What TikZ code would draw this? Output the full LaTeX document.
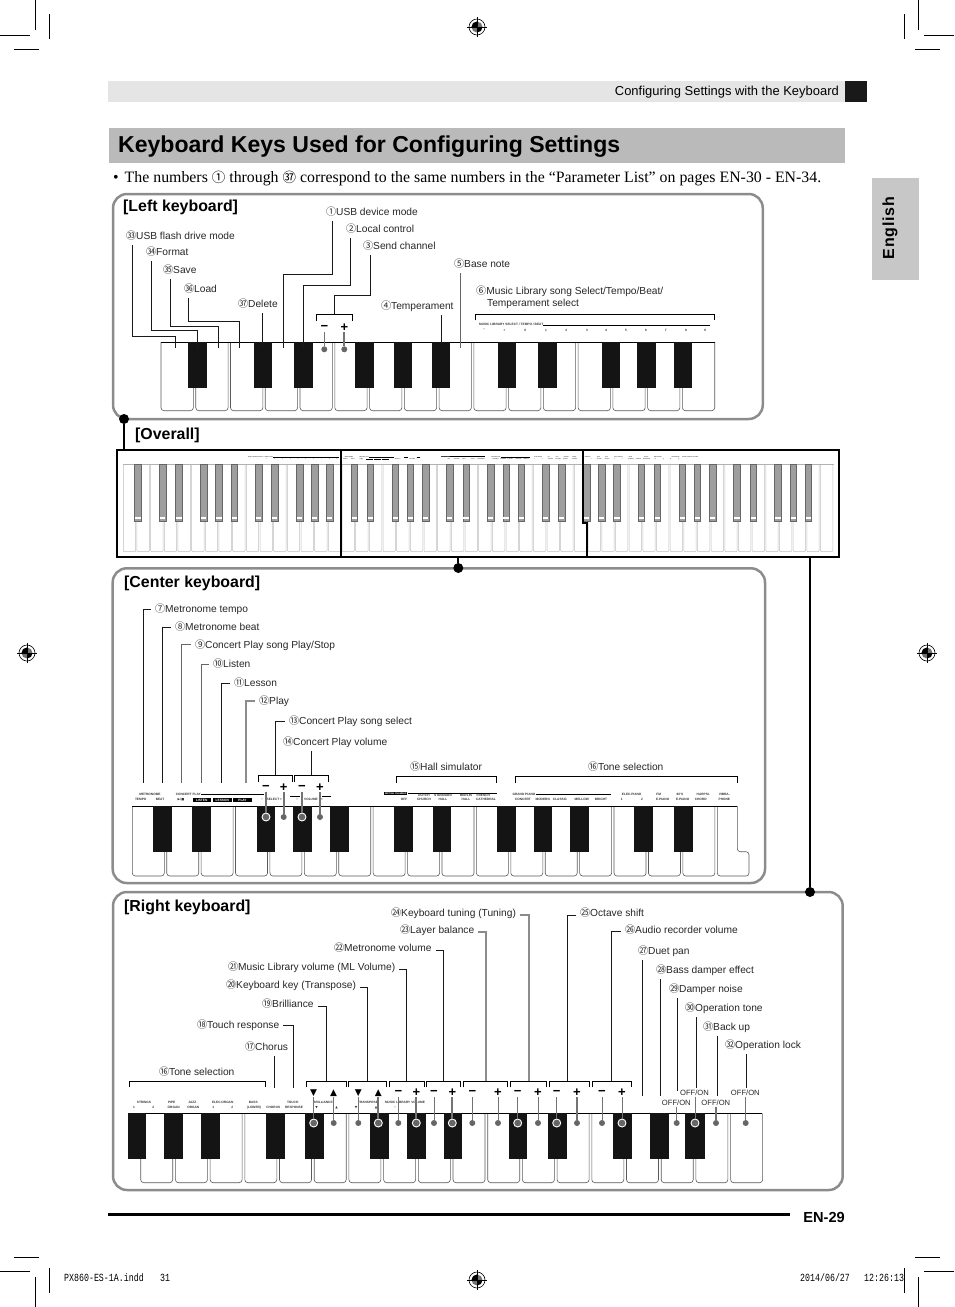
\documentclass[tikz,border=0pt]{standalone}
\usepackage{fontspec}
\setmainfont{Liberation Sans}
\newfontfamily\circfont{Noto Sans CJK JP}
\newfontfamily\serfont{Liberation Serif}
\newfontfamily\symfont{DejaVu Sans}
\newfontfamily\tabfont[LetterSpace=5]{Liberation Sans}
\newfontfamily\slugfont[FakeStretch=.76]{Liberation Mono}
\newcommand{\cn}[1]{{\circfont #1}}
\newcommand{\tup}{{\symfont\fontsize{9}{9}\selectfont ▲}}
\newcommand{\tdn}{{\symfont\fontsize{9}{9}\selectfont ▼}}
\tikzset{
  lbl/.style={anchor=west,inner sep=0,outer sep=4pt,xshift=-4pt,text height=9pt,text depth=1.5pt,font=\fontsize{10.2}{12}\selectfont,text=black!85},
  heading/.style={anchor=west,inner sep=0,font=\bfseries\fontsize{15.9}{19}\selectfont},
  leader/.style={line width=.9pt,black!90},
  leadergray/.style={line width=1.6pt,black!45},
  bracket/.style={line width=.8pt,black},
  wkey/.style={line width=.6pt,black!65,rounded corners=3pt},
  ovkey/.style={line width=.5pt,black!25,rounded corners=1pt},
  bkey/.style={fill=black!92},
  keyline/.style={line width=.8pt,black},
  panelbox/.style={draw=black!45,line width=2.5pt,rounded corners=14pt,inner sep=0,outer sep=0},
  ovline/.style={line width=1.7pt,black},
  bigdot/.style={circle,fill=black,inner sep=0,minimum size=10pt},
  keydot/.style={circle,fill=black!60,inner sep=0,minimum size=6pt},
  ringdot/.style={circle,fill=black!60,draw=white,line width=.9pt,inner sep=0,minimum size=8pt},
  signmark/.style={inner sep=0,minimum height=9pt,font=\bfseries\fontsize{13}{13}\selectfont},
  btnline/.style={line width=.8pt,black!55},
  btnthick/.style={line width=2pt,black!55},
  offon/.style={inner sep=0,outer sep=1pt,font=\fontsize{7.6}{9}\selectfont,text=black!85},
  mini/.style={inner sep=0,font=\bfseries\fontsize{3.2}{4}\selectfont,text=black!80},
  minichip/.style={inner sep=0,fill=black,text=white,font=\bfseries\fontsize{3.2}{4}\selectfont},
  miniline/.style={line width=.7pt,black},
  cropline/.style={line width=.9pt,black},
  slugtext/.style={anchor=west,inner sep=0,font=\slugfont\fontsize{10.9}{12}\selectfont}
}
\newcommand{\regmark}[1]{%
  \begin{scope}[shift={(#1)}]
    \draw[line width=.6pt] (0,0) circle (8);
    \fill[black!55] (0,0) circle (5.5);
    \fill (0,0) -- (5.5,0) arc (0:90:5.5) -- cycle;
    \fill (0,0) -- (-5.5,0) arc (180:270:5.5) -- cycle;
    \draw[line width=.6pt] (-10,0) -- (10,0) (0,-10) -- (0,10);
  \end{scope}}
\newcommand{\minileft}{%
  \node[mini,anchor=west] (mlib) at (479,324) {MUSIC LIBRARY SELECT / TEMPO / BEAT};
  \draw[miniline] (mlib.south east) -- (710,0 |- mlib.south east);
  \foreach \x/\t [count=\n] in {484/−,504.3/+,525.3/0,546/1,566.3/2,587/3,606/4,626/5,646/6,665.7/7,686/8,705/9}
    \node[mini] (mk\n) at (\x,330.3) {\t};}
\newcommand{\minicenter}{%
  \foreach \x/\y/\t [count=\n] in {150/794/METRONOME,140.7/799.7/TEMPO,160/799.7/BEAT,188.3/794/CONCERT PLAY,181/799.7/{\symfont ▶/■},
      262/799.7/−,273/799.7/SELECT,281/799.7/+,297/799.7/−,311/799.7/VOLUME,322/799.7/+,
      404/799.7/OFF,424/795/DUTCH,424/799.7/CHURCH,443/795/STANDARD,443/799.7/HALL,466/795/BERLIN,466/799.7/HALL,483.3/795/FRENCH,486/799.7/CATHEDRAL,
      524/794/GRAND PIANO,523/799.7/CONCERT,542.7/799.7/MODERN,560/799.7/CLASSIC,581.7/799.7/MELLOW,601/799.7/BRIGHT,
      631.7/794/ELEC.PIANO,621.7/799.7/1,642/799.7/2,658.7/794/FM,662.7/799.7/E.PIANO,680/794/60'S,682.7/799.7/E.PIANO,703.3/794/HARPSI-,700.7/799.7/CHORD,724.3/794/VIBRA-,724.3/799.7/PHONE}
    \node[mini] (mc\n) at (\x,\y) {\t};
  \foreach \x/\w/\t [count=\n] in {201.7/18/LISTEN,222.3/18.7/LESSON,242.5/18.4/PLAY}
    \node[minichip,minimum width=\w pt,minimum height=4pt] (mh\n) at (\x,800) {\t};
  \node[minichip,font=\bfseries\fontsize{2.3}{3}\selectfont,minimum width=23pt,minimum height=3.6pt] (mhall) at (395.8,793.3) {BRITISH CHAMBER};
  \draw[miniline] (mhall.east) -- (496.7,0 |- mhall.east);
  \draw[miniline] (mc4.east) -- (264,0 |- mc4.east);
  \draw[miniline] (290,796) -- (300,796) (322,796) -- (331,796);
  \draw[miniline] (mc21.east) -- (610.7,0 |- mc21.east);}
\newcommand{\miniright}{%
  \foreach \x/\y/\t [count=\n] in {144/1102.3/STRINGS,134/1107.7/1,153.3/1107.7/2,171.7/1102.3/PIPE,173.7/1107.7/ORGAN,192.3/1102.3/JAZZ,193.3/1107.7/ORGAN,
      222.7/1102.3/ELEC.ORGAN,213.3/1107.7/1,232.3/1107.7/2,253.3/1102.3/BASS,254/1107.7/(LOWER),273.3/1107.7/CHORUS,292.7/1102.3/TOUCH,294/1107.7/RESPONSE,
      323/1102.3/BRILLIANCE,316.7/1107.7/{\symfont ▼},336.7/1107.7/{\symfont ▲},368/1102.3/TRANSPOSE,356/1107.7/{\symfont ▼},376/1107.7/{\symfont ▲},405/1102.3/MUSIC LIBRARY VOLUME,395/1107.7/−}
    \node[mini] (mr\n) at (\x,\y) {\t};}
\begin{document}
\begin{tikzpicture}[x=1pt,y=-1pt]
\useasboundingbox (0,0) rectangle (954,1307);
\foreach \ox/\sx in {0/1,954/-1} \foreach \oy/\sy in {0/1,1307/-1}{
  \begin{scope}[shift={(\ox,\oy)},xscale=\sx,yscale=\sy]
    \draw[cropline] (35.5,0) -- (35.5,30);
    \draw[cropline] (0,35.5) -- (30,35.5);
    \draw[cropline] (49.5,14) -- (49.5,39);
    \draw[cropline] (14,49.5) -- (39,49.5);
  \end{scope}}
\regmark{477,27}
\regmark{27,653}
\regmark{927,653}
\regmark{477,1280}
\fill[black!10] (108,81) rectangle (845,102);
\fill[black!90] (845,81) rectangle (867,102);
\node[inner sep=0,anchor=east,font=\fontsize{12.95}{14}\selectfont] (headtxt) at (839,91.8) {Configuring Settings with the Keyboard};
\fill[black!27] (109,128) rectangle (845,163);
\node[inner sep=0,anchor=west,font=\bfseries\fontsize{23.05}{28}\selectfont] (title) at (118,146.8) {Keyboard Keys Used for Configuring Settings};
\node[inner sep=0,anchor=west,font=\serfont\fontsize{15.85}{18}\selectfont] (intro) at (113,178.5) {•\hspace{6pt}The numbers {\circfont\fontsize{13.5}{14}\selectfont ①} through {\circfont\fontsize{13.5}{14}\selectfont ㊲} correspond to the same numbers in the “Parameter List” on pages EN-30 - EN-34.};
\fill[black!22] (872,178) rectangle (919,280);
\node[rotate=90,inner sep=0,font=\tabfont\bfseries\fontsize{16}{20}\selectfont] (tab) at (890,228) {English};
% left panel
\node[panelbox,minimum width=649.7pt,minimum height=225pt] (leftbox) at (437.9,306.5) {};
\node[heading] (lefthd) at (123,207) {[Left keyboard]};
\foreach \i in {0,...,15} \draw[wkey] ({161+34.76*\i},342) -- ++(0,68.7) -- ++(32.3,0) -- ++(0,-68.7);
\draw[keyline] (161,342) -- (715,342);
\foreach \a/\b in {188/207,254/272,294/313,355/374,394/412,432/450,498/516,538/557,602/620,637/656,674/692}
  \fill[bkey] (\a,342) rectangle (\b,387.7);
\node[lbl] (lusbm) at (326,212) {\cn{①}USB device mode};
\node[lbl] (llocal) at (346,229) {\cn{②}Local control};
\node[lbl] (lsend) at (363,246) {\cn{③}Send channel};
\node[lbl] (ltemp) at (381,306) {\cn{④}Temperament};
\node[lbl] (lbase) at (454,264) {\cn{⑤}Base note};
\node[anchor=north west,inner sep=0,align=left,font=\fontsize{10.2}{12}\selectfont,text=black!85] (lmusic) at (476,285.5) {\cn{⑥}Music Library song Select/Tempo/Beat/\\\hspace*{11pt}Temperament select};
\node[lbl] (lusbf) at (126,236) {\cn{㉝}USB flash drive mode};
\node[lbl] (lform) at (146,252) {\cn{㉞}Format};
\node[lbl] (lsave) at (163,270) {\cn{㉟}Save};
\node[lbl] (lload) at (184,289) {\cn{㊱}Load};
\node[lbl] (ldel) at (238,304) {\cn{㊲}Delete};
\coordinate (kusbf) at (175.7,348);
\coordinate (kform) at (197.3,348);
\coordinate (ksave) at (218.3,348);
\coordinate (kload) at (239.3,348);
\coordinate (kdel) at (262.3,348);
\coordinate (kusbm) at (283.3,348);
\coordinate (klocal) at (303.3,348);
\coordinate (ksend) at (334,314);
\coordinate (ktemp) at (441,346);
\coordinate (kbase) at (460.3,348);
\draw[leader] (132.3,0 |- lusbf.south) -- (132.3,336) -| (kusbf);
\draw[leader] (151.3,0 |- lform.south) -- (151.3,330.7) -| (kform);
\draw[leader] (170.3,0 |- lsave.south) -- (170.3,326.7) -| (ksave);
\draw[leader] (188,0 |- lload.south) -- (188,321.3) -| (kload);
\draw[leader] (262.3,0 |- ldel.south) -- (kdel);
\draw[leader] (332,0 |- lusbm.south) -- (332,274.3) -| (kusbm);
\draw[leader] (350.7,0 |- llocal.south) -- (350.7,285) -| (klocal);
\draw[leader] (370.3,0 |- lsend.south) -- (370.3,295.7) -| (ksend);
\draw[leader] (441,0 |- ltemp.south) -- (ktemp);
\draw[leader,black!60] (460.3,0 |- lbase.south) -- (kbase);
\draw[bracket] (316.3,320.7) |- (352.7,314) -- (352.7,320.7);
\draw[bracket] (475.3,320.3) |- (714.7,314.7) -- (714.7,320.3);
\minileft
\foreach \x/\s/\l [count=\n] in {324.3/−/btnline,344.3/+/btnthick}{
  \node[signmark] (ls\n) at (\x,327.7) {\s};
  \node[keydot] (ld\n) at (\x,349.3) {};
  \draw[\l] (ls\n) -- (ld\n);}
% overall
\node[bigdot] (jleft) at (124,419) {};
\node[heading] (overhd) at (135,435) {[Overall]};
\foreach \i in {0,...,51} \draw[ovkey] ({123.3+13.67*\i},464) -- ++(0,87.7) -- ++(12.4,0) -- ++(0,-87.7);
\draw[line width=.5pt,black!30] (123.3,464) -- (834,464);
\foreach \x in {138}{
  \draw[black!60,fill=black!38,line width=.5pt] (\x-3.3,464) rectangle (\x+3.3,521.7);
  \fill[white] (\x-2.6,517.3) rectangle (\x+2.6,519.3);}
\foreach \o in {0,...,6} \foreach \b/\d in {1/-1.5,2/1,4/-1.5,5/0,6/1.5}{
  \pgfmathsetmacro{\kx}{123.3+13.67*(2+7*\o+\b)+\d}
  \draw[black!60,fill=black!38,line width=.5pt] (\kx-3.3,464) rectangle (\kx+3.3,521.7);
  \fill[white] (\kx-2.6,517.3) rectangle (\kx+2.6,519.3);}
\begin{scope}[name prefix=ovl,shift={(59.8,329.7)},scale=.393,transform shape]
  \minileft
\end{scope}
\begin{scope}[name prefix=ovc,shift={(290,145)},scale=.393,transform shape]
  \minicenter
\end{scope}
\begin{scope}[name prefix=ovr,shift={(531,24)},scale=.393,transform shape]
  \miniright
\end{scope}
\node[ovline,draw,inner sep=0,outer sep=0,minimum width=722.3pt,minimum height=107pt] (ovframe) at (477.85,503.5) {};
\draw[ovline] (340.7,450) -- (340.7,557);
\draw[ovline] (582.7,450) -- (582.7,523.3) -- (586.7,523.3) -- (586.7,557);
\draw[line width=2.6pt] (jleft) -- (jleft |- ovframe.north);
% center panel
\node[panelbox,minimum width=652.3pt,minimum height=314.7pt] (centerbox) at (438.85,725.65) {};
\node[bigdot] (jcenter) at (458.3,568) {};
\draw[line width=2pt] (jcenter |- ovframe.south) -- (jcenter);
\node[heading] (centerhd) at (124,583.5) {[Center keyboard]};
\foreach \i in {0,...,16} \draw[wkey] ({132.3+34.41*\i},806) -- ++(0,70) -- ++(32,0) -- ++(0,-70);
\draw[wkey] (717.3,806) -- (717.3,876) -- (749,876) -- (749,851.7) -- (737.3,851.7) -- (737.3,806);
\draw[keyline] (132.3,806) -- (737.3,806);
\foreach \a/\b in {153/172,192/211,257/275,293/312,330/349,394/413,433/451,497/516,534/552,570/589,634/653,674/693}
  \fill[bkey] (\a,806) rectangle (\b,852);
\node[lbl] (lmtempo) at (155,609) {\cn{⑦}Metronome tempo};
\node[lbl] (lmbeat) at (175,627) {\cn{⑧}Metronome beat};
\node[lbl] (lcplay) at (195,644.5) {\cn{⑨}Concert Play song Play/Stop};
\node[lbl] (llisten) at (213,664) {\cn{⑩}Listen};
\node[lbl] (llesson) at (234,683) {\cn{⑪}Lesson};
\node[lbl] (lplay) at (259,701) {\cn{⑫}Play};
\node[lbl] (lcsel) at (289,721) {\cn{⑬}Concert Play song select};
\node[lbl] (lcvol) at (283,742) {\cn{⑭}Concert Play volume};
\node[lbl] (lhall) at (410,767) {\cn{⑮}Hall simulator};
\node[lbl] (ltone) at (588,767) {\cn{⑯}Tone selection};
\coordinate (kmtempo) at (143.3,782.7);
\coordinate (kmbeat) at (162.5,782.7);
\coordinate (kcplay) at (181.5,782.7);
\coordinate (klisten) at (201.2,782.7);
\coordinate (klesson) at (221,782.7);
\coordinate (kplay) at (246,782.7);
\coordinate (kcsel) at (275.7,775.7);
\coordinate (kcvol) at (311.3,775.7);
\draw[leader] (lmtempo.west) -| (kmtempo);
\draw[leader] (lmbeat.west) -| (kmbeat);
\draw[leader,black!60] (lcplay.west) -| (kcplay);
\draw[leader,black!60] (llisten.west) -| (klisten);
\draw[leader] (llesson.west) -| (klesson);
\draw[leadergray] (lplay.west) -| (kplay);
\draw[leader] (lcsel.west) -| (kcsel);
\draw[leader] (311.3,0 |- lcvol.south) -- (kcvol);
\draw[bracket] (258.3,782.3) |- (292.7,775.7) -- (292.7,782.3);
\draw[bracket] (294.3,782.3) |- (328.7,775.7) -- (328.7,782.3);
\draw[bracket] (396.7,782.7) |- (496.7,776.7) -- (496.7,782.7);
\draw[bracket] (515.3,782.7) |- (737.3,776.7) -- (737.3,782.7);
\minicenter
\foreach \x/\s/\d [count=\n] in {266/−/ringdot,283.7/+/keydot,302/−/ringdot,320/+/keydot}{
  \node[signmark] (cs\n) at (\x,787.7) {\s};
  \node[\d] (cd\n) at (\x,817) {};
  \draw[btnthick] (cs\n) -- (cd\n);}
% right panel
\node[panelbox,minimum width=729.7pt,minimum height=298pt] (rightbox) at (477.85,1041) {};
\node[bigdot] (jright) at (810,892) {};
\draw[line width=2pt] (jright |- ovframe.south) -- (jright);
\node[heading] (righthd) at (124,907.5) {[Right keyboard]};
\foreach \i in {0,...,17} \draw[wkey] ({140.7+34.7*\i},1113.3) -- ++(0,69.4) -- ++(32,0) -- ++(0,-69.4);
\draw[keyline] (128,1113.3) -- (762,1113.3);
\foreach \a/\b in {127.7/146,164/183,201/220,266/285,305/324,370/389,407/426,444/462,509/527,548/567,613/632,650/669,685/705}
  \fill[bkey] (\a,1113.3) rectangle (\b,1158.7);
\node[lbl] (ltune) at (391,913) {\cn{㉔}Keyboard tuning (Tuning)};
\node[lbl] (llayer) at (400,930) {\cn{㉓}Layer balance};
\node[lbl] (lmetv) at (334,948) {\cn{㉒}Metronome volume};
\node[lbl] (lmlv) at (228,967) {\cn{㉑}Music Library volume (ML Volume)};
\node[lbl] (lkey) at (226,985) {\cn{⑳}Keyboard key (Transpose)};
\node[lbl] (lbril) at (262,1004) {\cn{⑲}Brilliance};
\node[lbl] (ltouch) at (197,1025) {\cn{⑱}Touch response};
\node[lbl] (lchorus) at (245,1047) {\cn{⑰}Chorus};
\node[lbl] (ltone2) at (159,1072) {\cn{⑯}Tone selection};
\node[lbl] (loct) at (580,913) {\cn{㉕}Octave shift};
\node[lbl] (laud) at (625,930) {\cn{㉖}Audio recorder volume};
\node[lbl] (lduet) at (638,951) {\cn{㉗}Duet pan};
\node[lbl] (lbass) at (656,970) {\cn{㉘}Bass damper effect};
\node[lbl] (ldamp) at (669,989) {\cn{㉙}Damper noise};
\node[lbl] (loper) at (685,1008) {\cn{㉚}Operation tone};
\node[lbl] (lback) at (703,1027) {\cn{㉛}Back up};
\node[lbl] (llock) at (725,1045) {\cn{㉜}Operation lock};
\coordinate (ktune) at (529,1081.7);
\coordinate (klayer) at (486,1081.7);
\coordinate (kmetv) at (443.7,1081.7);
\coordinate (kmlv) at (406.7,1081.7);
\coordinate (kkey) at (367.3,1081.7);
\coordinate (kbril) at (326.5,1081.7);
\coordinate (ktouch) at (293.3,1088.3);
\coordinate (kchorus) at (274.3,1088.3);
\coordinate (koct) at (567.5,1081.7);
\coordinate (kaud) at (611.3,1081.7);
\coordinate (kduet) at (642.5,1096);
\coordinate (kbass) at (660.5,1096);
\coordinate (kdamp) at (677.3,1091);
\coordinate (koper) at (696.3,1088);
\coordinate (kback) at (717.5,1096);
\coordinate (klock) at (746.3,1088);
\draw[leadergray] ([yshift=-2pt]ltune.east) -| (ktune);
\draw[leadergray] ([yshift=-2pt]llayer.east) -| (klayer);
\draw[leader] ([yshift=-2pt]lmetv.east) -| (kmetv);
\draw[leader] ([yshift=-2pt]lmlv.east) -| (kmlv);
\draw[leader] ([yshift=-2pt]lkey.east) -| (kkey);
\draw[leader] ([yshift=-2pt]lbril.east) -| (kbril);
\draw[leader] (ltouch.east) -| (ktouch);
\draw[leader] (274.3,0 |- lchorus.south) -- (kchorus);
\draw[leader] ([yshift=-2pt]loct.west) -| (koct);
\draw[leader] ([yshift=-1.5pt]laud.west) -| (kaud);
\draw[leader] (642.5,0 |- lduet.south) -- (kduet);
\draw[leader] (660.5,0 |- lbass.south) -- (kbass);
\draw[leader] (677.3,0 |- ldamp.south) -- (kdamp);
\draw[leader] (696.3,0 |- loper.south) -- (koper);
\draw[leader] (717.5,0 |- lback.south) -- (kback);
\draw[leader] (746.3,0 |- llock.south) -- (klock);
\foreach \a/\b in {129.3/265.3,306/346,348/386.7,389/424.3,426.3/460.3,463.3/507.7,510.7/546.3,549.3/589,592.7/631.7}
  \draw[bracket] (\a,1087.3) |- (\b,1081.7) -- (\b,1087.3);
\miniright
\foreach \x/\s/\d/\l [count=\n] in {313.7/\tdn/ringdot/btnline,333.7/\tup/keydot/btnline,358.3/\tdn/keydot/btnline,378.3/\tup/ringdot/btnthick,398.3/−/keydot/btnline,416.3/+/ringdot/btnthick,434/−/keydot/btnline,452.3/+/ringdot/btnthick,472.3/−/keydot/btnline,498/+/keydot/btnline,517.7/−/ringdot/btnline,538/+/keydot/btnline,556.7/−/ringdot/btnline,577/+/keydot/btnthick,602/−/keydot/btnline,622/+/ringdot/btnline}{
  \node[signmark] (rs\n) at (\x,1092.7) {\s};
  \node[\d] (rd\n) at (\x,1123) {};
  \draw[\l] (rs\n) -- (rd\n);}
\foreach \x/\y/\tx/\d/\l [count=\n] in {676.3/1102.7/676.7/keydot/btnline,694.5/1092.7/695/ringdot/btnline,715.8/1102.7/716/keydot/btnthick,745.3/1092.7/745.7/keydot/btnline}{
  \node[offon] (ro\n) at (\x,\y) {OFF/ON};
  \node[\d] (rp\n) at (\tx,1123) {};
  \draw[\l] (rp\n |- ro\n.south) -- (rp\n);}
% footer
\draw[line width=2.6pt] (108,1214.5) -- (790,1214.5);
\node[inner sep=0,anchor=east,font=\bfseries\fontsize{14.6}{17}\selectfont] (page) at (845,1217) {EN-29};
\node[slugtext] (slugl) at (64,1278) {PX860-ES-1A.indd};
\node[slugtext] (slugn) at (160,1278) {31};
\node[slugtext] (slugd) at (800,1278) {2014/06/27};
\node[slugtext] (slugt) at (864,1278) {12:26:13};
\end{tikzpicture}
\end{document}
